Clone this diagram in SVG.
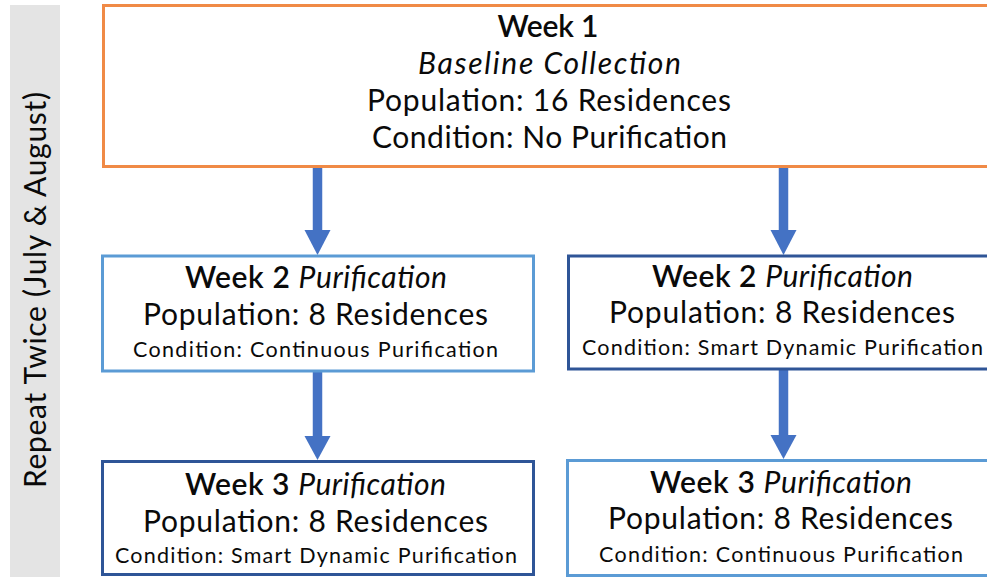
<svg xmlns="http://www.w3.org/2000/svg" width="987" height="577" viewBox="0 0 987 577">
<defs>
<style>
text{font-family:Lato,"Noto Sans","Liberation Sans",sans-serif;fill:#0a0a0a;text-anchor:middle}
.big{font-size:30px}
.mid{font-size:30px}
.sm{font-size:21.5px}
.wk{font-weight:600}
.it{font-style:italic}
.box{fill:#fff;stroke-width:3}
.orange{stroke:#F08A46}
.light{stroke:#5B9BD5}
.dark{stroke:#2F5597}
.shaft{stroke:#4472C4;stroke-width:9.5;fill:none}
.head{fill:#4472C4}
</style>
</defs>
<rect x="10" y="5" width="50" height="580" fill="#E4E4E4"/>
<text class="big" transform="translate(46,290) rotate(-90)" textLength="396" lengthAdjust="spacing">Repeat Twice (July &amp; August)</text>

<g id="connectors">
<line class="shaft" x1="317.5" y1="167" x2="317.5" y2="232"/>
<polygon class="head" points="304.5,230 330.5,230 317.5,255"/>
<line class="shaft" x1="783.5" y1="167" x2="783.5" y2="232"/>
<polygon class="head" points="770.5,230 796.5,230 783.5,255"/>
<line class="shaft" x1="317.5" y1="372" x2="317.5" y2="437"/>
<polygon class="head" points="304.5,436 330.5,436 317.5,460"/>
<line class="shaft" x1="783.5" y1="370" x2="783.5" y2="437"/>
<polygon class="head" points="770.5,435 796.5,435 783.5,459"/>
</g>

<g id="week1">
<rect class="box orange" x="103.5" y="5.5" width="890" height="161"/>
<text class="big wk" x="548" y="37" textLength="101" lengthAdjust="spacing">Week 1</text>
<text class="big it" x="549.5" y="74" textLength="263" lengthAdjust="spacing">Baseline Collection</text>
<text class="big" x="549" y="111" textLength="364" lengthAdjust="spacing">Population: 16 Residences</text>
<text class="big" x="549.5" y="148" textLength="355" lengthAdjust="spacing">Condition: No Purification</text>
</g>

<g id="week2-continuous">
<rect class="box light" x="102.5" y="256" width="431" height="115"/>
<text class="mid" x="316" y="288" textLength="262" lengthAdjust="spacing"><tspan class="wk">Week 2</tspan> <tspan class="it">Purification</tspan></text>
<text class="mid" x="315.5" y="325" textLength="345" lengthAdjust="spacing">Population: 8 Residences</text>
<text class="sm" x="315.5" y="356.5" textLength="365" lengthAdjust="spacing">Condition: Continuous Purification</text>
</g>

<g id="week2-smart">
<rect class="box dark" x="568.5" y="256" width="432" height="113"/>
<text class="mid" x="782.5" y="287" textLength="261" lengthAdjust="spacing"><tspan class="wk">Week 2</tspan> <tspan class="it">Purification</tspan></text>
<text class="mid" x="782" y="323" textLength="346" lengthAdjust="spacing">Population: 8 Residences</text>
<text class="sm" x="782.5" y="355" textLength="401" lengthAdjust="spacing">Condition: Smart Dynamic Purification</text>
</g>

<g id="week3-smart">
<rect class="box dark" x="102.5" y="461.5" width="431" height="113"/>
<text class="mid" x="315.5" y="495" textLength="261" lengthAdjust="spacing"><tspan class="wk">Week 3</tspan> <tspan class="it">Purification</tspan></text>
<text class="mid" x="315.5" y="532" textLength="345" lengthAdjust="spacing">Population: 8 Residences</text>
<text class="sm" x="316" y="563" textLength="402" lengthAdjust="spacing">Condition: Smart Dynamic Purification</text>
</g>

<g id="week3-continuous">
<rect class="box light" x="567.5" y="460.5" width="432" height="115"/>
<text class="mid" x="781" y="493" textLength="262" lengthAdjust="spacing"><tspan class="wk">Week 3</tspan> <tspan class="it">Purification</tspan></text>
<text class="mid" x="780.5" y="529" textLength="345" lengthAdjust="spacing">Population: 8 Residences</text>
<text class="sm" x="781" y="562" textLength="364" lengthAdjust="spacing">Condition: Continuous Purification</text>
</g>
</svg>
